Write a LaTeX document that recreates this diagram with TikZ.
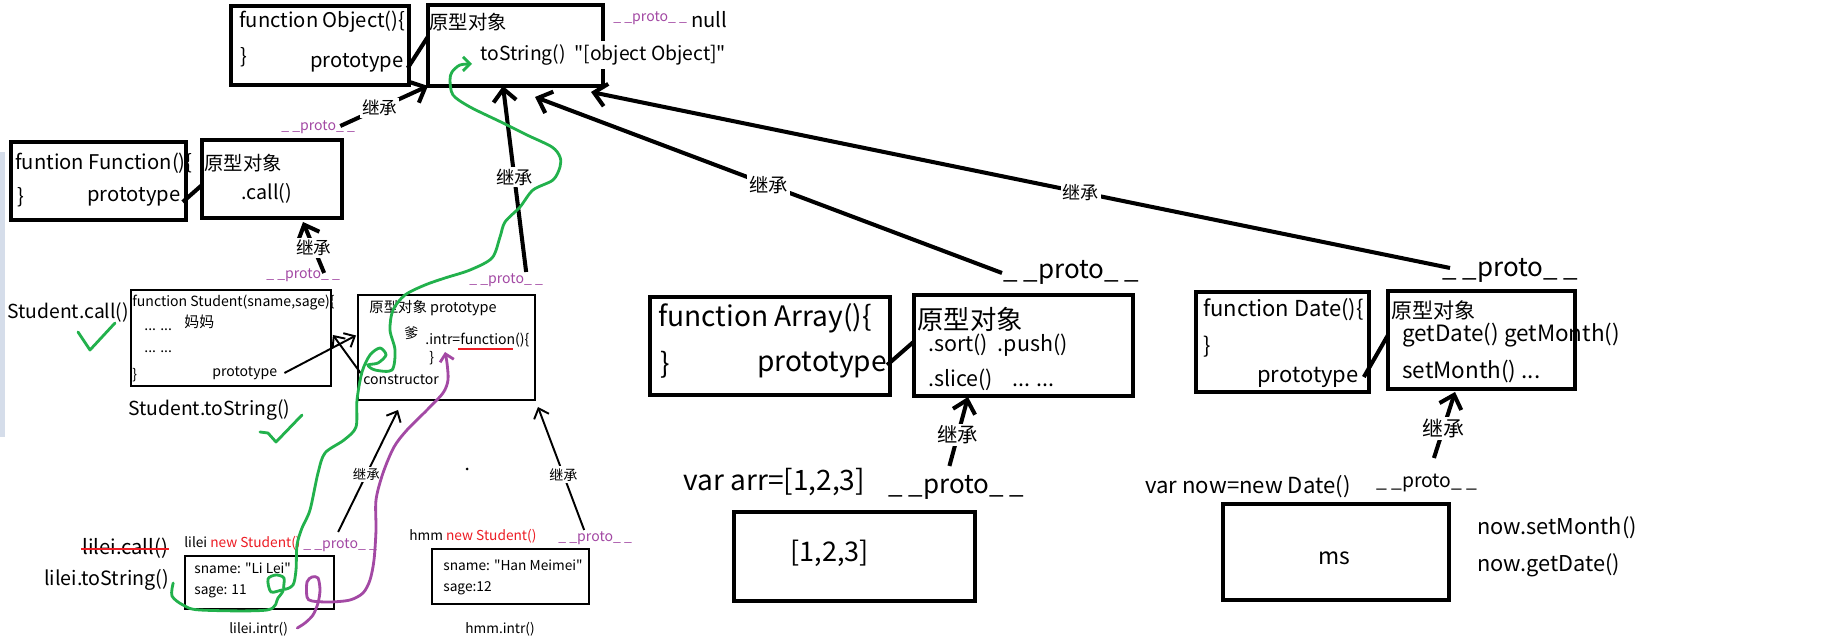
\documentclass[tikz,border=0pt]{standalone}
\usepackage{fontspec}
\setmainfont{Noto Sans CJK SC}[Ligatures=TeXOff]
\usetikzlibrary{arrows.meta}
\definecolor{pgreen}{HTML}{22B14C}
\definecolor{ppurple}{HTML}{A349A4}
\definecolor{pred}{HTML}{ED1C24}
\definecolor{sideblue}{HTML}{D5DDEA}
\tikzset{
  fatbox/.style={draw, line width=2.8pt, outer sep=0pt, inner sep=0pt, anchor=north west},
  thinbox/.style={draw, line width=1.3pt, outer sep=0pt, inner sep=0pt, anchor=north west},
  tx/.style={inner sep=0pt, anchor=west, font=\fontsize{#1}{#1}\selectfont},
  pr/.style={tx=#1, text=ppurple},
  jc/.style={fill=white, inner sep=1pt, font=\fontsize{#1}{#1}\selectfont},
  link/.style={line width=2.3pt},
  inh/.style={line width=2.3pt, -{Straight Barb[length=7pt,width=13pt]}},
  inhthin/.style={line width=1.1pt, -{Straight Barb[length=5pt,width=9pt]}},
  scrawl/.style={line width=1.6pt, line cap=round, line join=round}
}
\begin{document}
\begin{tikzpicture}[x=0.02cm,y=-0.02cm]
\useasboundingbox (0,0) rectangle (1824,644);
\fill[white] (0,0) rectangle (1824,644);
\fill[sideblue] (0,152) rectangle (5,437);

% Object
\node[fatbox, minimum width=3.56cm, minimum height=1.58cm] (objfn) at (231,6) {};
\node[tx=11.5pt] (objhead) at (239,22) {function Object()\{};
\node[tx=11.5pt] (objend) at (240,57) {\}};
\node[tx=11.5pt] (objpt) at (310,63) {prototype};
\node[fatbox, minimum width=3.5cm, minimum height=1.62cm] (objpro) at (428,5) {};
\node[tx=11pt] (objprohead) at (429,22) {原型对象};
\node[tx=11pt, fill=white, inner ysep=2pt] (tostr) at (480,55) {toString()\ \ "[object Object]"};
\node[pr=8pt] (pnull) at (613,18) {\_ \_proto\_ \_};
\node[tx=11.5pt] (null) at (691,20) {null};
\draw[link] ([shift={(4,5)}]objpt.east) -- ([shift={(0,-9)}]objpro.west);

% Function
\node[fatbox, minimum width=3.5cm, minimum height=1.56cm] (fnfn) at (11,142) {};
\node[tx=11.5pt] (fnhead) at (15,163) {funtion Function()\{};
\node[tx=11.5pt] (fnend) at (17,197) {\}};
\node[tx=11.5pt] (fnpt) at (87,197) {prototype};
\node[fatbox, minimum width=2.8cm, minimum height=1.56cm] (fnpro) at (202,140) {};
\node[tx=11pt] (fnprohead) at (204,163) {原型对象};
\node[tx=11.2pt] (fncall) at (241,193) {.call()};
\draw[link] ([shift={(2,5)}]fnpt.east) -- ([shift={(0,6)}]fnpro.west);
\node[pr=8pt] (pfo) at (281,127) {\_ \_proto\_ \_};
\draw[inh] ([shift={(-15,-1)}]pfo.east) -- node[jc=10pt, pos=.45] {继承} (objpro.south west);

% Student
\node[thinbox, minimum width=4cm, minimum height=1.92cm] (stufn) at (131,290) {};
\node[tx=8pt] (stuhead) at (132,303) {function Student(sname,sage)\{};
\node[tx=8.5pt] (mama) at (184,322) {妈妈};
\node[tx=8pt] (dotsa) at (144,330) {... ...};
\node[tx=8pt] (dotsb) at (144,352) {... ...};
\node[tx=8pt] (stuend) at (132,375) {\}};
\node[tx=8pt] (stupt) at (212,373) {prototype};
\node[thinbox, minimum width=3.54cm, minimum height=2.1cm] (stupro) at (358,295) {};
\node[tx=8.2pt] (stuprohead) at (369,308) {原型对象 prototype};
\node[tx=8pt] (dad) at (404,333) {爹};
\node[tx=8pt] (intr) at (425,340) {.intr=function()\{};
\node[tx=8pt] (intrend) at (429,358) {\}};
\node[tx=8pt] (cons) at (363,380) {constructor};
\draw[pred, line width=1.2pt] (458,349) -- (513,349);
\draw[inhthin] ([shift={(7,0)}]stupt.east) -- ([shift={(-2,-12)}]stupro.west);
\draw[inhthin] ([shift={(-1,-5)}]cons.west) -- ([shift={(2,-3)}]stufn.east);
\node[pr=8pt] (pfs) at (266,275) {\_ \_proto\_ \_};
\draw[inh] ([shift={(21,-2)}]pfs.center) -- node[jc=10pt, pos=.49] {继承} ([shift={(101,4)}]fnpro.south west);
\node[pr=8pt] (psb) at (469,280) {\_ \_proto\_ \_};
\draw[inh] ([shift={(20,-8)}]psb.center) -- node[jc=10.4pt, pos=.51] {继承} ([shift={(75,0)}]objpro.south west);
\node[tx=11pt] (stucall) at (7,312) {Student.call()};
\node[tx=11pt] (stustr) at (128,410) {Student.toString()};
\draw[scrawl, pgreen] (78,332) -- (90,350) -- (115,323);
\draw[scrawl, pgreen] (260,432) -- (268,433) -- (276,442) -- (302,415);

% instances
\node[tx=7.8pt] (lname) at (184,543) {lilei \textcolor{pred}{new Student()}};
\node[thinbox, minimum width=2.98cm, minimum height=1.06cm] (lilei) at (185,556) {};
\node[tx=7.8pt] (lsname) at (194,568) {sname: "Li Lei"};
\node[tx=7.8pt] (lsage) at (194,591) {sage: 11};
\node[tx=7.8pt] (lintr) at (229,629) {lilei.intr()};
\node[tx=11.5pt] (lcall) at (82,548) {lilei.call()};
\draw[pred, line width=1.3pt] ([shift={(-1,1)}]lcall.west) -- ([shift={(1,1)}]lcall.east);
\node[tx=11.2pt] (lstr) at (44,580) {lilei.toString()};
\node[pr=8pt] (plilei) at (303,545) {\_ \_proto\_ \_};
\draw[inhthin] ([shift={(-2,-13)}]plilei.center) -- node[jc=7.6pt, pos=.47] {继承} ([shift={(40,10)}]stupro.south west);
\node[tx=7.8pt] (hname) at (409,536) {hmm \textcolor{pred}{new Student()}};
\node[thinbox, minimum width=3.14cm, minimum height=1.1cm] (hmm) at (432,549) {};
\node[tx=7.8pt] (hsname) at (443,565) {sname: "Han Meimei"};
\node[tx=7.8pt] (hsage) at (443,588) {sage:12};
\node[tx=7.8pt] (hintr) at (465,629) {hmm.intr()};
\node[pr=8pt] (phmm) at (558,538) {\_ \_proto\_ \_};
\draw[inhthin] ([shift={(-11,-8)}]phmm.center) -- node[jc=8pt, pos=.45] {继承} ([shift={(3,7)}]stupro.south east);
\fill (467,469) circle (1.5);

% Array
\node[fatbox, minimum width=4.8cm, minimum height=1.96cm] (arrfn) at (650,297) {};
\node[tx=16pt] (arrhead) at (658,318) {function Array()\{};
\node[tx=16pt] (arrend) at (660,365) {\}};
\node[tx=16pt] (arrpt) at (757,365) {prototype};
\node[fatbox, minimum width=4.38cm, minimum height=2.02cm] (arrpro) at (914,295) {};
\node[tx=15pt] (arrprohead) at (917,319) {原型对象};
\node[tx=12.2pt] (arrma) at (928,345) {.sort()\ \ .push()};
\node[tx=12.2pt] (arrmb) at (928,380) {.slice()\ \ \ \ ... ...};
\draw[link] (arrpt.east) -- ([shift={(0,-4)}]arrpro.west);
\node[tx=14.8pt] (parra) at (1003,272) {\_ \_proto\_ \_};
\draw[inh] ([shift={(-1,1)}]parra.west) -- node[jc=11pt, pos=.5] {继承} ([shift={(107,11)}]objpro.south west);
\node[tx=16pt] (arrvar) at (683,482) {var arr=[1,2,3]};
\node[tx=14.8pt] (parrb) at (888,487) {\_ \_proto\_ \_};
\node[fatbox, minimum width=4.82cm, minimum height=1.78cm] (arrobj) at (734,512) {};
\node[tx=15.4pt] (arrval) at (790,553) {[1,2,3]};
\draw[inh] ([shift={(-7,-21)}]parrb.center) -- node[jc=11.6pt, pos=.45] {继承} ([shift={(54,1)}]arrpro.south west);

% Date
\node[fatbox, minimum width=3.46cm, minimum height=2cm] (datefn) at (1196,292) {};
\node[tx=12.5pt] (datehead) at (1203,310) {function Date()\{};
\node[tx=12.5pt] (dateend) at (1203,347) {\}};
\node[tx=12.5pt] (datept) at (1257,377) {prototype};
\node[tx=12pt] (dateprohead) at (1391,310) {原型对象};
\node[tx=12.8pt] (datema) at (1402,335) {getDate() getMonth()};
\node[tx=12.8pt] (datemb) at (1402,372) {setMonth() ...};
\node[fatbox, minimum width=3.74cm, minimum height=1.96cm] (datepro) at (1388,291) {};
\draw[link] ([shift={(5,0)}]datept.east) -- ([shift={(0,-5)}]datepro.west);
\node[tx=14.8pt] (pdatea) at (1442,270) {\_ \_proto\_ \_};
\draw[inh] ([shift={(8,-2)}]pdatea.west) -- node[jc=10.3pt, pos=.43] {继承} ([shift={(163,6)}]objpro.south west);
\node[tx=12.6pt] (datevar) at (1145,487) {var now=new Date()};
\node[tx=11pt] (pdateb) at (1376,483) {\_ \_proto\_ \_};
\node[fatbox, minimum width=4.52cm, minimum height=1.92cm] (dateobj) at (1223,504) {};
\node[tx=13pt] (dateval) at (1318,558) {ms};
\node[tx=12.4pt] (nowset) at (1477,528) {now.setMonth()};
\node[tx=12.4pt] (nowget) at (1477,565) {now.getDate()};
\draw[inh] ([shift={(7,-25)}]pdateb.center) -- node[jc=11.9pt, pos=.45] {继承} ([shift={(67,3)}]datepro.south west);

% lookup paths
\draw[scrawl, pgreen, -{Straight Barb[length=4pt,width=8pt]}] plot[smooth, tension=.5] coordinates {([shift={(4,3)}]lstr.east) (172,596) (183,605) (200,610) (267,610) (278,598) (283,590) (271,592) (268,579) (276,575) (284,578) (284,589) (293,585) (296,570) (297,545) (302,528) (310,510) (318,473) (325,453) (344,440) (356,427) (357,400) (362,372) (370,355) (380,348) (386,355) (378,363) (368,365) (375,370) (392,370) (395,350) (390,330) (393,310) (405,295) (425,285) (445,278) (470,270) (492,258) (500,237) (505,222) (520,207) (533,190) (553,180) (560,167) (560,157) (552,147) (527,135) (503,123) (470,107) (453,95) (450,80) (452,72) (460,65) ([shift={(-8,9)}]tostr.west)};
\draw[scrawl, ppurple, -{Straight Barb[length=4pt,width=8pt]}] plot[smooth, tension=.5] coordinates {([shift={(9,-1)}]lintr.east) (305,623) (313,615) (318,603) (320,590) (318,578) (312,577) (307,582) (307,597) (312,601) (330,602) (350,600) (363,593) (370,580) (374,560) (376,530) (376,500) (383,473) (394,447) (407,430) (427,410) (443,393) (448,380) (447,363) ([shift={(20,12)}]intr.west)};
\end{tikzpicture}
\end{document}
